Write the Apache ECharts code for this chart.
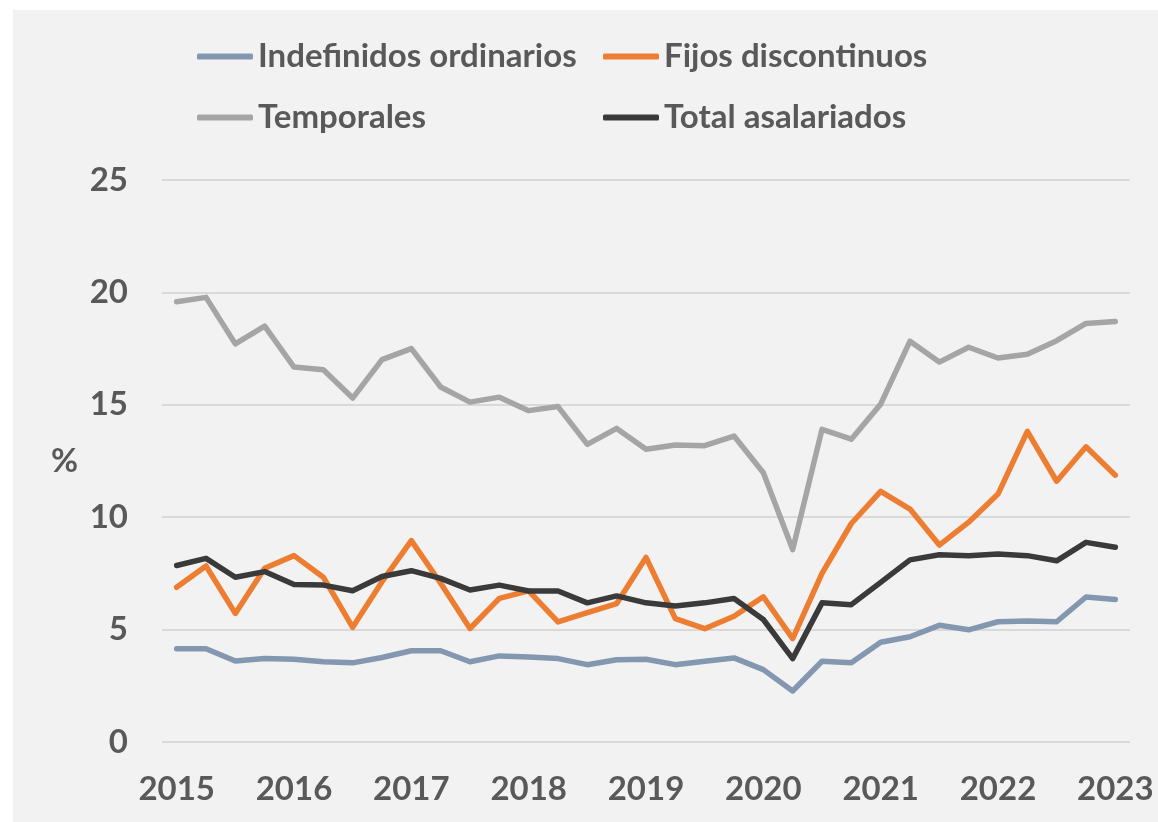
<!DOCTYPE html>
<html>
<head>
<meta charset="utf-8">
<title>Asalariados</title>
<script src="https://cdn.jsdelivr.net/npm/echarts@6/dist/echarts.min.js"></script>
<style>
  html, body { margin: 0; padding: 0; background: #fff; }
  #panel { position: absolute; left: 13px; top: 10px; width: 1145px; height: 812px; background: #f2f2f2; }
  #chart { position: absolute; left: 0; top: 0; width: 1158px; height: 822px; }
</style>
</head>
<body>
<div id="panel"></div>
<div id="chart"></div>
<script>
// quarters 2015T1 .. 2023T1
const years = ["2015", "2016", "2017", "2018", "2019", "2020", "2021", "2022", "2023"];
const quarters = [];
years.forEach(function (y, i) {
  const n = i < years.length - 1 ? 4 : 1;
  for (let q = 1; q <= n; q++) quarters.push(y + "T" + q);
});

const indefinidos = [4.15, 4.15, 3.60, 3.71, 3.68, 3.57, 3.52, 3.76, 4.06, 4.06, 3.57, 3.83, 3.78, 3.71, 3.44, 3.66,
  3.68, 3.44, 3.59, 3.74, 3.22, 2.27, 3.59, 3.53, 4.44, 4.68, 5.19, 4.99, 5.35, 5.38, 5.35, 6.45, 6.34];
const fijos = [6.88, 7.83, 5.72, 7.73, 8.29, 7.33, 5.10, 7.13, 8.96, 7.06, 5.05, 6.39, 6.72, 5.34, 5.76, 6.16,
  8.21, 5.49, 5.04, 5.59, 6.46, 4.60, 7.50, 9.72, 11.15, 10.36, 8.76, 9.78, 11.03, 13.82, 11.60, 13.13, 11.87];
const temporales = [19.58, 19.78, 17.71, 18.50, 16.68, 16.56, 15.30, 17.01, 17.50, 15.79, 15.12, 15.34, 14.74, 14.92, 13.24, 13.95,
  13.02, 13.21, 13.18, 13.61, 11.98, 8.56, 13.91, 13.47, 15.03, 17.83, 16.90, 17.56, 17.08, 17.25, 17.85, 18.62, 18.71];
const total = [7.85, 8.17, 7.33, 7.58, 7.01, 6.98, 6.73, 7.36, 7.62, 7.28, 6.76, 6.98, 6.72, 6.72, 6.19, 6.50,
  6.19, 6.05, 6.19, 6.38, 5.45, 3.71, 6.19, 6.11, 7.10, 8.10, 8.33, 8.29, 8.36, 8.29, 8.06, 8.88, 8.66];

const font = "Lato";
const textColor = "#595959";

function line(name, data, color) {
  return {
    name: name,
    type: "line",
    data: data,
    symbol: "none",
    lineStyle: { color: color, width: 5.5, cap: "round", join: "round" },
    itemStyle: { color: color }
  };
}

const legendText = { color: textColor, fontFamily: font, fontWeight: "bold", fontSize: 33 };

let myChart = echarts.init(document.getElementById("chart"));
let option = {
  animation: false,
  backgroundColor: "transparent",
  legend: [
    {
      data: ["Indefinidos ordinarios", "Temporales"],
      orient: "vertical",
      left: 197,
      top: 40,
      padding: 0,
      itemGap: 28,
      icon: "roundRect",
      itemWidth: 56,
      itemHeight: 6,
      textStyle: legendText
    },
    {
      data: ["Fijos discontinuos", "Total asalariados"],
      orient: "vertical",
      left: 603,
      top: 40,
      padding: 0,
      itemGap: 28,
      icon: "roundRect",
      itemWidth: 56,
      itemHeight: 6,
      textStyle: legendText
    }
  ],
  grid: {
    left: 162,
    right: 28,
    top: 180,
    bottom: 80
  },
  xAxis: {
    type: "category",
    boundaryGap: true,
    data: quarters,
    axisLine: { show: false },
    axisTick: { show: false },
    axisLabel: {
      interval: 3,
      margin: 31,
      color: textColor,
      fontFamily: font,
      fontWeight: "bold",
      fontSize: 33,
      formatter: function (v) { return v.slice(0, 4); }
    }
  },
  yAxis: {
    type: "value",
    min: 0,
    max: 25,
    interval: 5,
    name: "%",
    nameLocation: "middle",
    nameRotate: 0,
    nameGap: 84,
    nameTextStyle: { color: textColor, fontFamily: font, fontWeight: "bold", fontSize: 33 },
    axisLine: { show: false },
    axisTick: { show: false },
    axisLabel: {
      margin: 34,
      color: textColor,
      fontFamily: font,
      fontWeight: "bold",
      fontSize: 33
    },
    splitLine: { lineStyle: { color: "#d9d9d9", width: 2 } }
  },
  series: [
    line("Indefinidos ordinarios", indefinidos, "#8497b0"),
    line("Fijos discontinuos", fijos, "#ed7d31"),
    line("Temporales", temporales, "#a5a5a5"),
    line("Total asalariados", total, "#3a3a3a")
  ]
};
myChart.setOption(option);
</script>
</body>
</html>
